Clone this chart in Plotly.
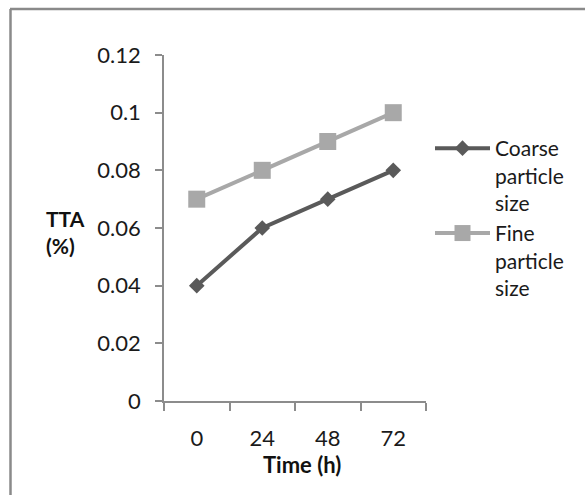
import plotly.graph_objects as go

# ---- data ----
time_labels = ["0", "24", "48", "72"]
coarse_tta = [0.04, 0.06, 0.07, 0.08]
fine_tta = [0.07, 0.08, 0.09, 0.10]
series_names = ["Coarse<br>particle<br>size", "Fine<br>particle<br>size"]
y_ticks = [0, 0.02, 0.04, 0.06, 0.08, 0.10, 0.12]

W, H = 585, 495
L, R, T, B = 164, 585 - 426, 55, 495 - 401
PW, PH = W - L - R, H - T - B


def px(x):
    return (x - L) / PW


def py(y):
    return (H - B - y) / PH


FONT = "Lato, Calibri, 'Open Sans', sans-serif"
DARK = "#5a5a5a"
LIGHT = "#a8a8a8"
AX = "#8c8c8c"

fig = go.Figure()
fig.add_trace(go.Scatter(
    x=time_labels, y=coarse_tta, name=series_names[0], mode="lines+markers",
    line=dict(color=DARK, width=4),
    marker=dict(symbol="diamond", size=12, color=DARK),
))
fig.add_trace(go.Scatter(
    x=time_labels, y=fine_tta, name=series_names[1], mode="lines+markers",
    line=dict(color=LIGHT, width=4),
    marker=dict(symbol="square", size=17, color=LIGHT),
))

fig.update_layout(
    width=W, height=H,
    margin=dict(l=L, r=R, t=T, b=B, pad=0),
    paper_bgcolor="white", plot_bgcolor="white",
    font=dict(family=FONT, size=22, color="#1a1a1a"),
    showlegend=True,
    legend=dict(
        x=px(430), y=py(128), xanchor="left", yanchor="top",
        valign="top", tracegroupgap=2, itemwidth=55,
        font=dict(family=FONT, size=21, color="#1a1a1a"),
        bgcolor="rgba(0,0,0,0)",
    ),
    xaxis=dict(
        type="category", range=[-0.5, 3.5],
        showline=True, linecolor=AX, linewidth=1.5,
        ticks="outside", tickson="boundaries", ticklen=8, tickcolor=AX, tickwidth=1.5,
        showgrid=False, zeroline=False,
        ticklabelstandoff=17,
        tickfont=dict(family=FONT, size=22, color="#1a1a1a"),
    ),
    yaxis=dict(
        range=[0, 0.12], tickvals=y_ticks,
        showline=True, linecolor=AX, linewidth=1.5,
        ticks="outside", ticklen=7, tickcolor=AX, tickwidth=1.5,
        showgrid=False, zeroline=False,
        ticklabelstandoff=10,
        tickfont=dict(family=FONT, size=22, color="#1a1a1a"),
    ),
    annotations=[
        dict(text="<b>TTA<br>(%)</b>", xref="paper", yref="paper",
             x=px(44), y=py(232), xanchor="left", yanchor="middle", align="left",
             showarrow=False, font=dict(family=FONT, size=21, color="#111111")),
        dict(text="<b>Time (h)</b>", xref="paper", yref="paper",
             x=px(302), y=py(465), xanchor="center", yanchor="middle",
             showarrow=False, font=dict(family=FONT, size=22, color="#111111")),
    ],
    shapes=[
        dict(type="line", xref="paper", yref="paper",
             x0=px(10), y0=py(9), x1=px(W + 5), y1=py(9),
             line=dict(color="#8a8a8a", width=2.5)),
        dict(type="line", xref="paper", yref="paper",
             x0=px(10.5), y0=py(9), x1=px(10.5), y1=py(H + 5),
             line=dict(color="#8a8a8a", width=2.5)),
    ],
)

fig.write_html("out.html")
